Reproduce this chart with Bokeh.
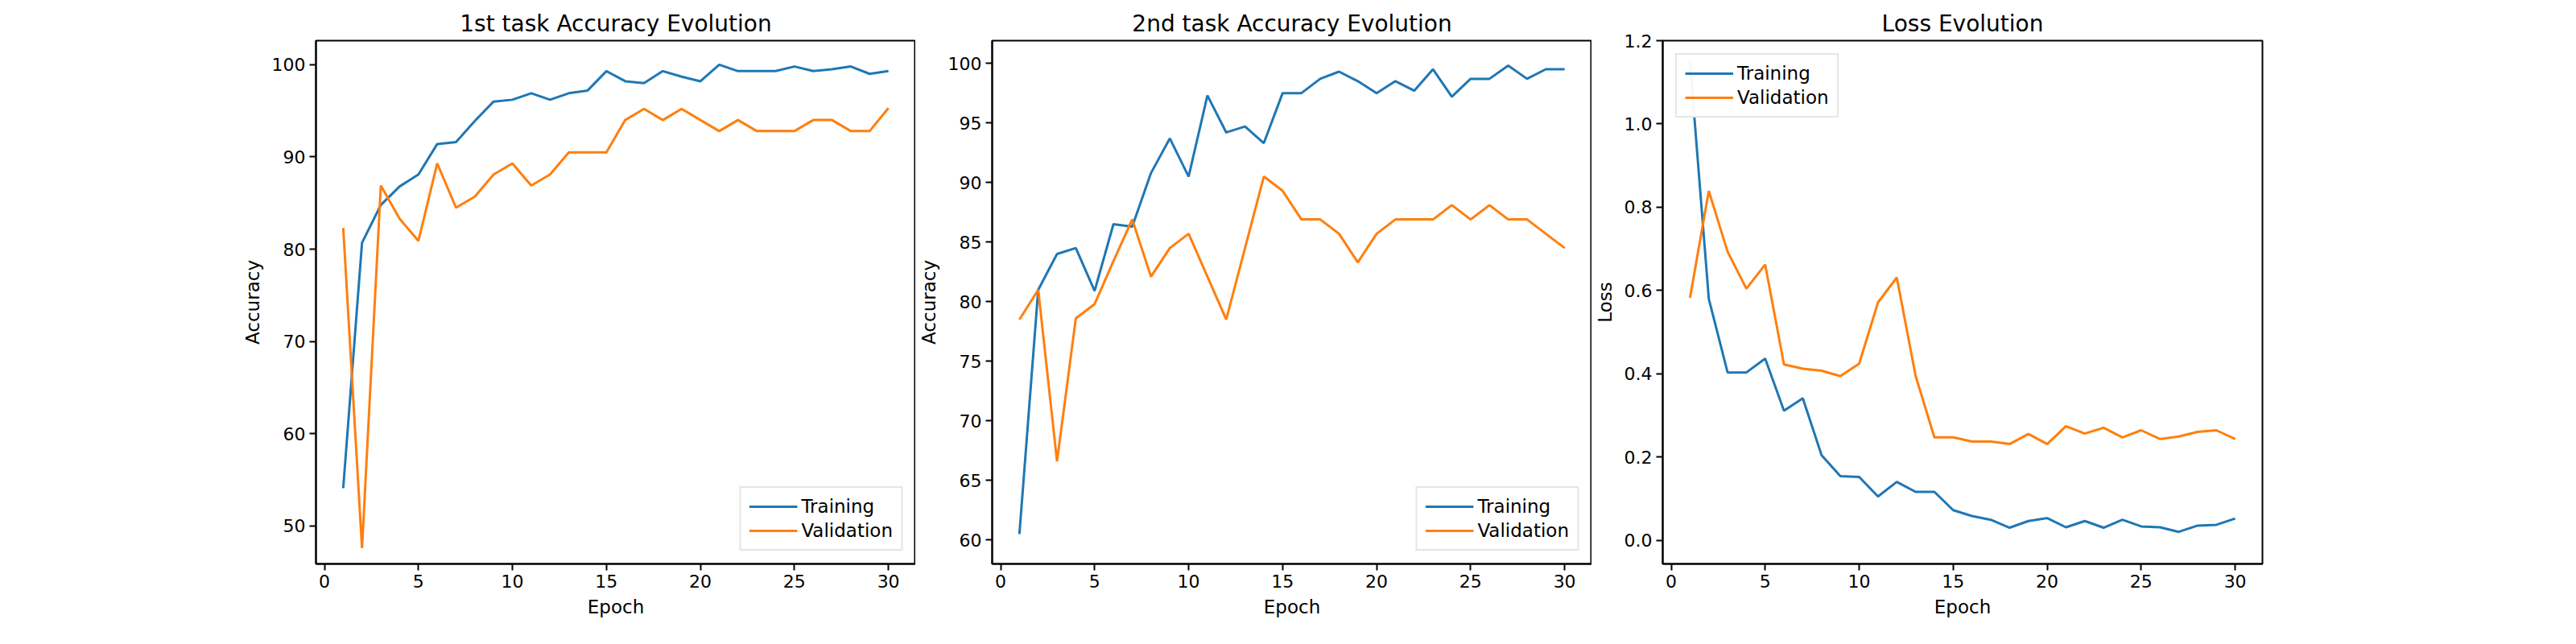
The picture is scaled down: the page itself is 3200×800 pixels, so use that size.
from bokeh.plotting import figure
from bokeh.layouts import row
from bokeh.models import Range1d, FixedTicker, Legend, LegendItem
from bokeh.embed import file_html
from bokeh.resources import INLINE

epochs = list(range(1, 31))

task1_train = [54.1, 80.7, 84.8, 86.8, 88.1, 91.4, 91.6, 93.9, 96.0, 96.2,
               96.9, 96.2, 96.9, 97.2, 99.3, 98.2, 98.0, 99.3, 98.7, 98.2,
               100.0, 99.3, 99.3, 99.3, 99.8, 99.3, 99.5, 99.8, 99.0, 99.3]
task1_val = [82.3, 47.6, 86.9, 83.3, 80.9, 89.3, 84.5, 85.7, 88.1, 89.3,
             86.9, 88.1, 90.5, 90.5, 90.5, 94.0, 95.2, 94.0, 95.2, 94.0,
             92.8, 94.0, 92.8, 92.8, 92.8, 94.0, 94.0, 92.8, 92.8, 95.3]

task2_train = [60.5, 81.0, 84.0, 84.5, 80.9, 86.5, 86.3, 90.8, 93.7, 90.5,
               97.3, 94.2, 94.7, 93.3, 97.5, 97.5, 98.7, 99.3, 98.5, 97.5,
               98.5, 97.7, 99.5, 97.2, 98.7, 98.7, 99.8, 98.7, 99.5, 99.5]
task2_val = [78.5, 81.0, 66.6, 78.6, 79.8, 83.4, 86.9, 82.1, 84.5, 85.7,
             82.1, 78.5, 84.5, 90.5, 89.3, 86.9, 86.9, 85.7, 83.3, 85.7,
             86.9, 86.9, 86.9, 88.1, 86.9, 88.1, 86.9, 86.9, 85.7, 84.5]

loss_train = [1.149, 0.580, 0.403, 0.403, 0.436, 0.311, 0.341, 0.204, 0.154, 0.152,
              0.105, 0.140, 0.116, 0.116, 0.072, 0.058, 0.049, 0.030, 0.046, 0.053,
              0.031, 0.046, 0.030, 0.049, 0.033, 0.031, 0.020, 0.035, 0.037, 0.052]
loss_val = [0.582, 0.839, 0.693, 0.604, 0.662, 0.422, 0.412, 0.407, 0.394, 0.424,
            0.571, 0.631, 0.395, 0.247, 0.247, 0.237, 0.237, 0.231, 0.255, 0.231,
            0.274, 0.256, 0.270, 0.247, 0.264, 0.243, 0.249, 0.260, 0.264, 0.243]

BLUE = "#1f77b4"
ORANGE = "#ff7f0e"
FONT = "DejaVu Sans"


def make_panel(title, ylabel, train, val, yrange, yticks, legend_loc, left, right):
    p = figure(title=title, output_backend="svg", toolbar_location=None,
               frame_width=745, frame_height=650,
               min_border_left=left, min_border_right=right,
               min_border_top=50, min_border_bottom=10,
               x_range=Range1d(-0.45, 31.45), y_range=Range1d(*yrange))
    r1 = p.line(epochs, train, line_color=BLUE, line_width=3)
    r2 = p.line(epochs, val, line_color=ORANGE, line_width=3)

    p.title.text_font = FONT
    p.title.text_font_size = "28px"
    p.title.text_font_style = "normal"
    p.title.text_color = "black"
    p.title.align = "center"

    p.xgrid.visible = False
    p.ygrid.visible = False
    p.outline_line_color = "black"
    p.outline_line_width = 2

    p.xaxis.ticker = FixedTicker(ticks=[0, 5, 10, 15, 20, 25, 30])
    p.yaxis.ticker = FixedTicker(ticks=yticks)
    if yticks[0] < 1:
        p.yaxis.major_label_overrides = {t: "%.1f" % t for t in yticks}
    p.xaxis.axis_label = "Epoch"
    p.yaxis.axis_label = ylabel
    for ax in (p.xaxis, p.yaxis):
        ax.axis_label_text_font = FONT
        ax.axis_label_text_font_size = "23px"
        ax.axis_label_text_font_style = "normal"
        ax.axis_label_text_color = "black"
        ax.major_label_text_font = FONT
        ax.major_label_text_font_size = "22px"
        ax.major_label_text_color = "black"
        ax.minor_tick_line_color = None
        ax.major_tick_out = 8
        ax.major_tick_in = 0
        ax.major_tick_line_width = 2
        ax.axis_line_width = 2
        ax.axis_label_standoff = 8

    legend = Legend(items=[LegendItem(label="Training", renderers=[r1]),
                           LegendItem(label="Validation", renderers=[r2])],
                    location=legend_loc)
    legend.label_text_font = FONT
    legend.label_text_font_size = "23px"
    legend.label_text_color = "black"
    legend.glyph_width = 60
    legend.border_line_color = "#cccccc"
    legend.border_line_width = 2
    legend.padding = 10
    legend.spacing = 4
    legend.margin = 16
    p.add_layout(legend)
    return p


p1 = make_panel("1st task Accuracy Evolution", "Accuracy", task1_train, task1_val,
                (45.9, 102.6), [50, 60, 70, 80, 90, 100], "bottom_right", 392, 0)
p2 = make_panel("2nd task Accuracy Evolution", "Accuracy", task2_train, task2_val,
                (58.0, 101.9), [60, 65, 70, 75, 80, 85, 90, 95, 100], "bottom_right", 85, 0)
p3 = make_panel("Loss Evolution", "Loss", loss_train, loss_val,
                (-0.057, 1.2), [0.0, 0.2, 0.4, 0.6, 0.8, 1.0, 1.2], "top_left", 85, 370)

layout = row(p1, p2, p3)
open("out.html", "w").write(file_html(layout, INLINE))
